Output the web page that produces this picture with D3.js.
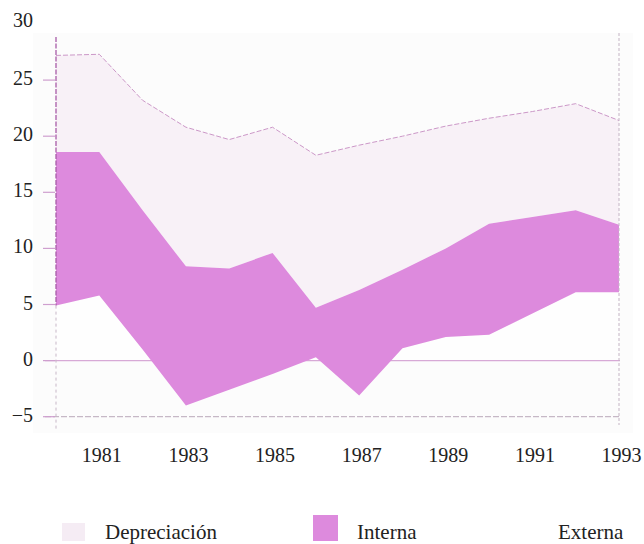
<!DOCTYPE html>
<html>
<head>
<meta charset="utf-8">
<script src="https://cdn.jsdelivr.net/npm/d3@7/dist/d3.min.js"></script>
<style>
  html, body { margin: 0; padding: 0; background: #ffffff; }
  svg { display: block; }
  text { font-family: "Liberation Serif", "Times New Roman", serif; fill: #222; }
</style>
</head>
<body>
<svg id="chart" width="644" height="544"></svg>
<script>
// ---- data ----
const years = [1980, 1981, 1982, 1983, 1984, 1985, 1986, 1987, 1988, 1989, 1990, 1991, 1992, 1993];
const externa      = [4.9, 5.8, 1.0, -4.0, -2.6, -1.2, 0.3, -3.1, 1.1, 2.1, 2.3, 4.2, 6.1, 6.1];
const interna      = [13.7, 12.8, 12.4, 12.4, 10.8, 10.8, 4.4, 9.4, 7.0, 7.9, 9.9, 8.6, 7.3, 6.0];
const depreciacion = [8.6, 8.7, 9.8, 12.4, 11.5, 11.2, 13.6, 12.9, 11.9, 10.9, 9.4, 9.4, 9.5, 9.3];
const yTicks = [-5, 0, 5, 10, 15, 20, 25, 30];
const xTicks = [1981, 1983, 1985, 1987, 1989, 1991, 1993];
const seriesNames = ["Externa", "Interna", "Depreciación"];

const table = years.map((y, i) => ({
  year: y, "Externa": externa[i], "Interna": interna[i], "Depreciación": depreciacion[i]
}));

const colors = { "Externa": "#fefefe", "Interna": "#dd8add", "Depreciación": "#f8f1f7" };

const svg = d3.select("#chart");
const x = d3.scaleLinear().domain([1980, 1993]).range([56, 619]);
const y = d3.scaleLinear().domain([-5, 30]).range([416.7, 24]);

// panel background
svg.append("rect").attr("x", 33).attr("y", 33).attr("width", 600).attr("height", 400)
  .attr("fill", "#fcfcfc");

const stack = d3.stack().keys(seriesNames).offset(d3.stackOffsetNone);
const layers = stack(table);

const area = d3.area()
  .x(d => x(d.data.year))
  .y0(d => y(d[0]))
  .y1(d => y(d[1]));

// Externa (white, below gridlines)
svg.append("path").datum(layers[0]).attr("d", area).attr("fill", colors["Externa"]);

// gridlines at 0 and -5
svg.append("line").attr("x1", 45).attr("x2", 620).attr("y1", y(0)).attr("y2", y(0))
  .attr("stroke", "#d7a9d6").attr("stroke-width", 1.2);
svg.append("line").attr("x1", 45).attr("x2", 620).attr("y1", y(-5)).attr("y2", y(-5))
  .attr("stroke", "#c6b8c6").attr("stroke-width", 1.2).attr("stroke-dasharray", "6,2");

// Depreciación and Interna
svg.append("path").datum(layers[2]).attr("d", area).attr("fill", colors["Depreciación"]);
svg.append("path").datum(layers[1]).attr("d", area).attr("fill", colors["Interna"]);

// top boundary dashed line
const topLine = d3.line().x(d => x(d.data.year)).y(d => y(d[1]));
svg.append("path").datum(layers[2]).attr("d", topLine).attr("fill", "none")
  .attr("stroke", "#cc98c8").attr("stroke-width", 1).attr("stroke-dasharray", "5,2");

// left and right vertical lines
svg.append("line").attr("x1", 56).attr("x2", 56).attr("y1", 37).attr("y2", y(externa[0]))
  .attr("stroke", "#a85ca8").attr("stroke-width", 1.3).attr("stroke-dasharray", "5,1.5");
svg.append("line").attr("x1", 56).attr("x2", 56).attr("y1", y(externa[0])).attr("y2", 430)
  .attr("stroke", "#c8b8c8").attr("stroke-width", 1).attr("stroke-dasharray", "3,3");
svg.append("line").attr("x1", 619).attr("x2", 619).attr("y1", 33).attr("y2", 425)
  .attr("stroke", "#c4b4c4").attr("stroke-width", 1).attr("stroke-dasharray", "3,2");

// y ticks and labels
const yAxis = svg.append("g");
yAxis.selectAll("line.tk").data(yTicks.filter(v => v < 30)).join("line")
  .attr("x1", 43).attr("x2", 55).attr("y1", d => y(d)).attr("y2", d => y(d))
  .attr("stroke", "#cf9fcf").attr("stroke-width", 1.2);
yAxis.selectAll("text").data(yTicks).join("text")
  .attr("x", 33).attr("y", d => y(d) - (d === 30 ? 4 : 2)).attr("dy", "0.35em")
  .attr("text-anchor", "end").attr("font-size", 20)
  .text(d => d < 0 ? "\u2212" + Math.abs(d) : d);

// x labels
svg.append("g").selectAll("text").data(xTicks).join("text")
  .attr("x", d => x(d) + 2.5).attr("y", 462)
  .attr("text-anchor", "middle").attr("font-size", 20)
  .text(d => d);

// legend
const lg = svg.append("g");
lg.append("rect").attr("x", 62).attr("y", 523).attr("width", 23).attr("height", 18)
  .attr("fill", "#f5ecf4");
lg.append("rect").attr("x", 313).attr("y", 515).attr("width", 25).attr("height", 26)
  .attr("fill", colors["Interna"]);
const legendItems = [
  { name: "Depreciación", x: 105 },
  { name: "Interna", x: 357 },
  { name: "Externa", x: 558 }
];
lg.selectAll("text").data(legendItems).join("text")
  .attr("x", d => d.x).attr("y", 539).attr("font-size", 21)
  .text(d => d.name);
</script>
</body>
</html>
